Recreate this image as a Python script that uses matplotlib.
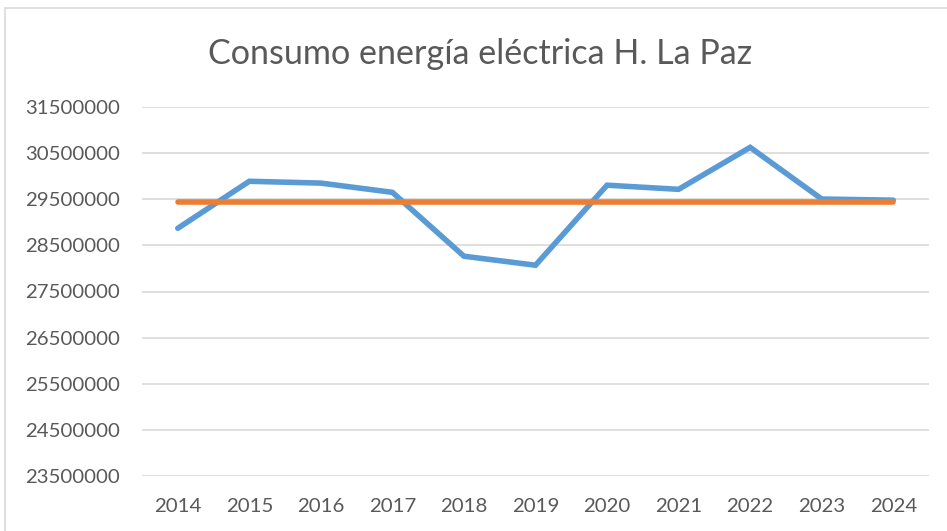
import matplotlib
matplotlib.use("Agg")
import matplotlib.pyplot as plt
from matplotlib.patches import Rectangle

years = ["2014", "2015", "2016", "2017", "2018", "2019", "2020", "2021", "2022", "2023", "2024"]
consumo = [28870000, 29890000, 29850000, 29650000, 28265000, 28070000,
           29805000, 29715000, 30625000, 29505000, 29480000]
promedio = [29430000] * 11
yticks = [23500000, 24500000, 25500000, 26500000, 27500000,
          28500000, 29500000, 30500000, 31500000]

plt.rcParams['font.family'] = ['Lato', 'DejaVu Sans']

fig = plt.figure(figsize=(9.47, 5.31), dpi=100)
ax = fig.add_axes([142/947, 55/531, 787/947, 369/531])

x = list(range(len(years)))
ax.plot(x, consumo, color="#5B9BD5", linewidth=4, solid_joinstyle="miter", solid_capstyle="round", zorder=3)
ax.plot(x, promedio, color="#ED7D31", linewidth=4, solid_capstyle="round", zorder=3)

ax.set_xlim(-0.5, 10.5)
ax.set_ylim(23500000, 31500000)
ax.set_yticks(yticks)
ax.set_yticklabels([str(v) for v in yticks])
ax.set_xticks(x)
ax.set_xticklabels(years)
ax.tick_params(length=0, labelsize=14.7, colors="#595959")
ax.tick_params(axis="y", pad=16)
ax.tick_params(axis="x", pad=16)
ax.grid(axis="y", color="#D9D9D9", linewidth=1.2)
ax.set_axisbelow(True)
for s in ax.spines.values():
    s.set_visible(False)

fig.text(0.507, 1 - 54/531, "Consumo energía eléctrica H. La Paz", ha="center", va="center",
         fontsize=24.6, color="#595959")

fig.patches.append(Rectangle((5/947, -0.1), 1.2, 1.1 - 8/531, transform=fig.transFigure,
                             fill=False, edgecolor="#D9D9D9", linewidth=1.2))

plt.savefig("out.png", dpi=100)
